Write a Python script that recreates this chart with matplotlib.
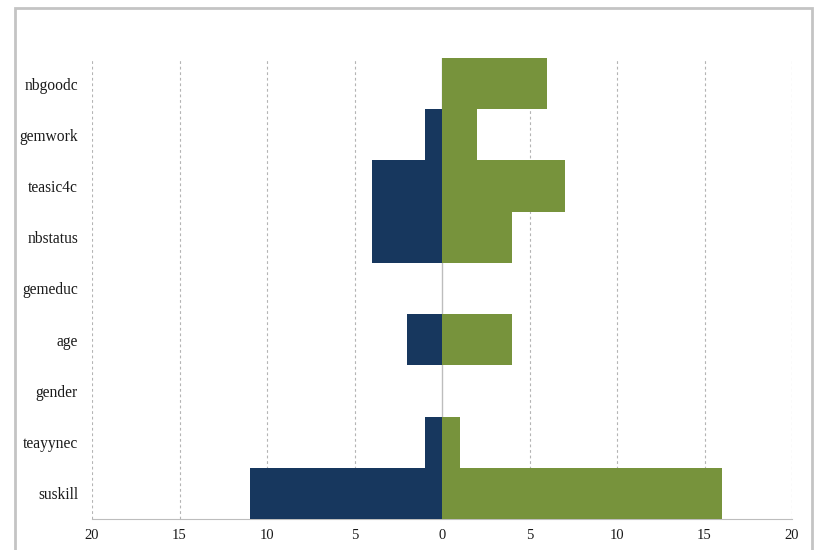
import matplotlib.pyplot as plt
from matplotlib.patches import Rectangle

# data (top to bottom)
variabel = ['nbgoodc', 'gemwork', 'teasic4c', 'nbstatus', 'gemeduc',
            'age', 'gender', 'teayynec', 'suskill']
nilai_neg = [0, 1, 4, 4, 0, 2, 0, 1, 11]
nilai_pos = [6, 2, 7, 4, 0, 4, 0, 1, 16]
tick_pos = [-20, -15, -10, -5, 0, 5, 10, 15, 20]
tick_lbl = ['20', '15', '10', '5', '0', '5', '10', '15', '20']

plt.rcParams['font.family'] = ['Liberation Serif', 'DejaVu Serif']

fig = plt.figure(figsize=(8.26, 5.5), dpi=100)
ax = fig.add_axes([92 / 826, 1 - 519 / 550, 700 / 826, 461 / 550])

y = list(range(len(variabel)))[::-1]
ax.barh(y, [-v for v in nilai_neg], height=1.0, color='#17375E', zorder=3)
ax.barh(y, nilai_pos, height=1.0, color='#77933C', zorder=3)

ax.set_xlim(-20, 20)
ax.set_ylim(-0.5, len(variabel) - 0.5)
ax.set_yticks(y)
ax.set_yticklabels(variabel, fontsize=11.2, color='#1a1a1a')
ax.set_xticks(tick_pos)
ax.set_xticklabels(tick_lbl, fontsize=10.5, color='#1a1a1a')
ax.tick_params(length=0, pad=7)
ax.tick_params(axis='y', pad=10)

for x in tick_pos:
    if x != 0:
        ax.axvline(x, color='#b4b4b4', linestyle=(0, (2.5, 2.5)), linewidth=0.8, zorder=1)
ax.axvline(0, color='#bdbdbd', linewidth=1.0, zorder=2)

for s in ['top', 'left', 'right']:
    ax.spines[s].set_visible(False)
ax.spines['bottom'].set_color('#bdbdbd')

# bingkai luar
fig.patches.append(Rectangle((15 / 826, -0.1), 797 / 826, 1.1 - 8 / 550,
                             transform=fig.transFigure, fill=False,
                             edgecolor='#c4c4c4', linewidth=2))

fig.savefig('out.png', dpi=100)
